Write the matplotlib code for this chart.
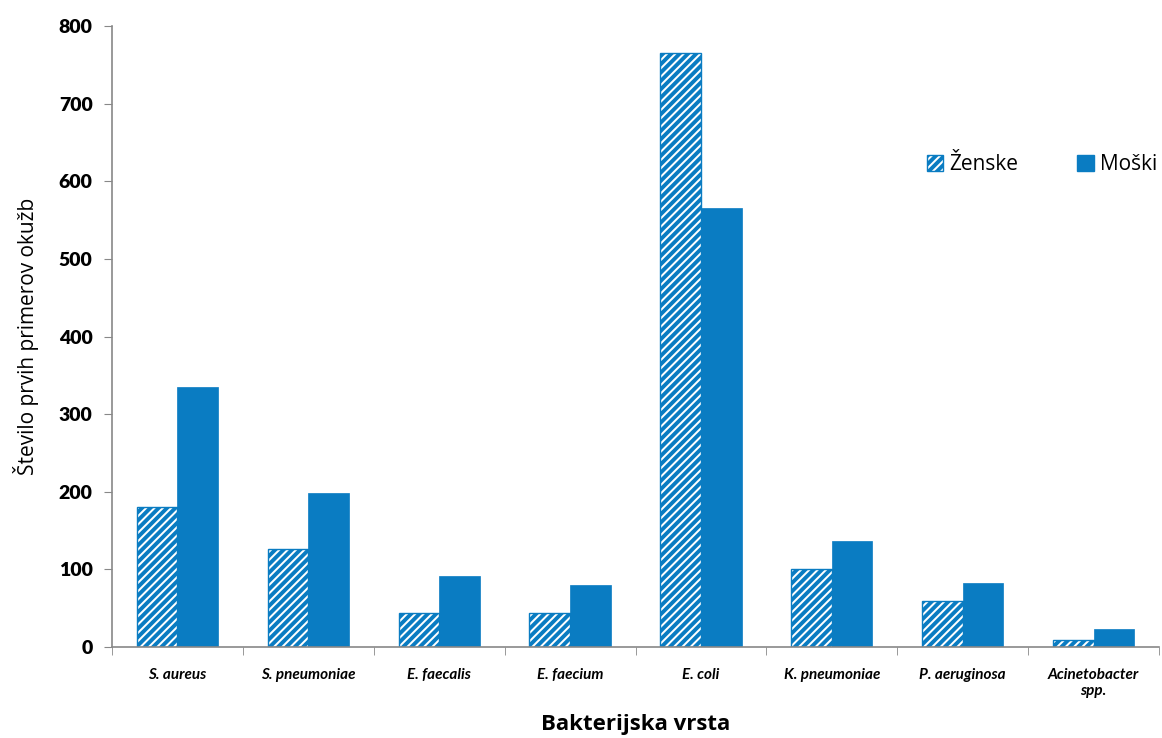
import numpy as np
import matplotlib.pyplot as plt
from matplotlib.patches import Patch

categories = ["S. aureus", "S. pneumoniae", "E. faecalis", "E. faecium",
              "E. coli", "K. pneumoniae", "P. aeruginosa", "Acinetobacter\nspp."]
zenske = [180, 126, 44, 44, 765, 100, 59, 9]
moski = [335, 198, 91, 80, 565, 136, 83, 23]

blue = '#0A7CC2'
plt.rcParams['hatch.linewidth'] = 2.8
plt.rcParams['hatch.color'] = blue

fig = plt.figure(figsize=(11.62, 7.38), dpi=100)
ax = fig.add_axes([112 / 1162, 1 - 647 / 738, (1159 - 112) / 1162, (647 - 26) / 738])

x = np.arange(len(categories))
w = 0.31
ax.bar(x - w / 2, zenske, w, facecolor='white', edgecolor=blue, hatch='////', linewidth=1.0)
ax.bar(x + w / 2, moski, w, color=blue, edgecolor=blue, linewidth=0.5)

ax.set_xlim(-0.5, len(categories) - 0.5)
ax.set_ylim(0, 800)
ax.set_yticks(range(0, 801, 100))
ax.set_yticklabels([str(v) for v in range(0, 801, 100)], fontsize=14,
                   fontweight='heavy', family='Lato')

ax.set_xticks(x)
ax.set_xticklabels(categories, fontsize=11, style='italic', fontweight='bold',
                   family='Lato')
ax.set_xticks(np.arange(-0.5, len(categories)), minor=True)
ax.tick_params(axis='x', which='major', length=0, pad=15)
ax.tick_params(axis='x', which='minor', length=6, color='#888888', direction='out')
ax.tick_params(axis='y', length=6, color='#888888', direction='out', pad=8)

for s in ['top', 'right']:
    ax.spines[s].set_visible(False)
for s in ['left', 'bottom']:
    ax.spines[s].set_color('#888888')
    ax.spines[s].set_linewidth(1.2)

ax.set_ylabel("Število prvih primerov okužb", fontsize=15, family='Open Sans', labelpad=14)
ax.set_xlabel("Bakterijska vrsta", fontsize=16, fontweight='bold', family='Open Sans')
ax.xaxis.set_label_coords(0.5, -0.108)

handles = [Patch(facecolor='white', edgecolor=blue, hatch='////', label='Ženske'),
           Patch(facecolor=blue, edgecolor=blue, label='Moški')]
ax.legend(handles=handles, loc='center', bbox_to_anchor=(1042 / 1162, 1 - 165 / 738),
          bbox_transform=fig.transFigure, ncol=2, frameon=False,
          prop={'family': 'Open Sans', 'size': 15}, handlelength=0.8,
          handleheight=0.8, handletextpad=0.3, columnspacing=2.8)

fig.savefig('out.png', dpi=100)
